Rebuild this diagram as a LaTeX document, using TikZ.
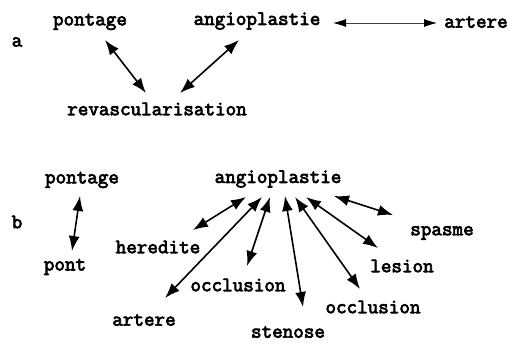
\documentclass[tikz,border=0pt]{standalone}
\usepackage{fontspec}
\newfontfamily\tfont[FakeBold=3.5]{Latin Modern Mono}
\usetikzlibrary{arrows.meta}
\begin{document}
\begin{tikzpicture}[x=1pt,y=-1pt,
  lbl/.style={font=\tfont\fontsize{20.5}{22}\selectfont, inner sep=0pt, anchor=center},
  link/.style={line width=1.6pt, {Latex[length=15pt,width=11pt]}-{Latex[length=15pt,width=11pt]}},
  thin link/.style={line width=0.8pt, draw=black!75, {Latex[length=13pt,width=8pt,fill=black,color=black]}-{Latex[length=13pt,width=8pt,fill=black,color=black]}}]
\useasboundingbox (0,0) rectangle (510,343);
% part a
\node[lbl] (la) at (17,42) {a};
\node[lbl] (pa) at (90,22) {pontage};
\node[lbl] (aa) at (257,21) {angioplastie};
\node[lbl] (ra) at (476,22) {artere};
\node[lbl] (rv) at (157,109) {revascularisation};
\coordinate (pa1) at (105,40);
\coordinate (rv1) at (146,93);
\coordinate (aa1) at (239,40);
\coordinate (rv2) at (180,93);
\draw[link] (pa1) -- (rv1);
\draw[link] (aa1) -- (rv2);
\coordinate (aa2) at (333,23);
\coordinate (ra2) at (437,23);
\draw[thin link] (aa2) -- (ra2);
% part b
\node[lbl] (lb) at (17,222) {b};
\node[lbl] (pb) at (82,180) {pontage};
\node[lbl] (po) at (65,267) {pont};
\node[lbl] (ab) at (278,179) {angioplastie};
\node[lbl] (he) at (158,247) {heredite};
\node[lbl] (sp) at (442,233) {spasme};
\node[lbl] (le) at (402,266) {lesion};
\node[lbl] (o1) at (238,285) {occlusion};
\node[lbl] (o2) at (373,307) {occlusion};
\node[lbl] (ar) at (144,320) {artere};
\node[lbl] (st) at (288,332) {stenose};
\coordinate (pb1) at (80,196);
\coordinate (po1) at (72,251);
\draw[link] (pb1) -- (po1);
\coordinate (s1) at (246,197); \coordinate (e1) at (193,230);
\coordinate (s2) at (262,197); \coordinate (e2) at (165,298);
\coordinate (s3) at (270,197); \coordinate (e3) at (247,266);
\coordinate (s4) at (285,196); \coordinate (e4) at (303,307);
\coordinate (s5) at (295,197); \coordinate (e5) at (360,289);
\coordinate (s6) at (306,197); \coordinate (e6) at (378,248);
\coordinate (s7) at (334,196); \coordinate (e7) at (393,215);
\draw[link] (s1) -- (e1);
\draw[link] (s2) -- (e2);
\draw[link] (s3) -- (e3);
\draw[link] (s4) -- (e4);
\draw[link] (s5) -- (e5);
\draw[link] (s6) -- (e6);
\draw[link] (s7) -- (e7);
\end{tikzpicture}
\end{document}
